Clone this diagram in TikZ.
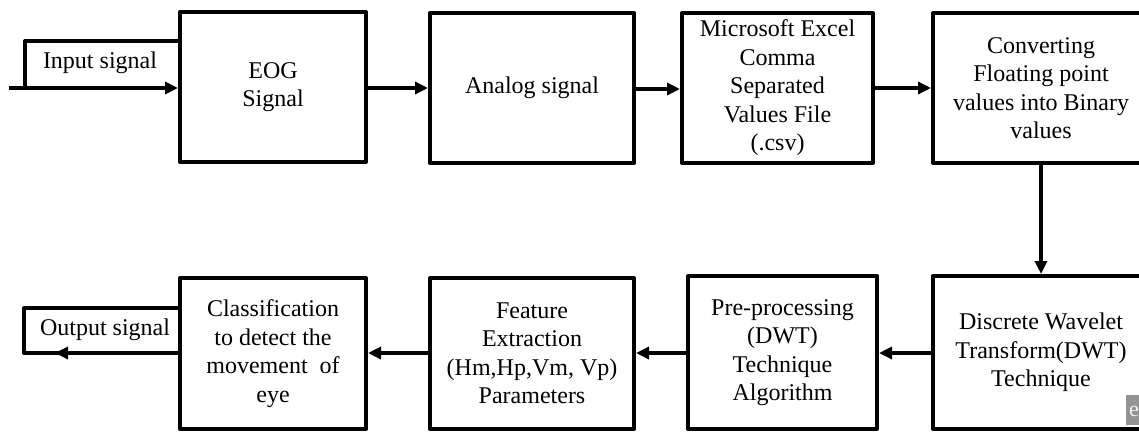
\documentclass[tikz,border=0pt]{standalone}
\usepackage{fontspec}
\setmainfont{Liberation Serif}
\usetikzlibrary{arrows.meta}
\begin{document}
\begin{tikzpicture}[x=1pt,y=-1pt,
  blk/.style={draw=black,line width=4pt,line join=round,minimum width=#1,minimum height=150pt,
    inner sep=0pt,align=center,font=\fontsize{24}{28.5}\selectfont},
  blk/.default=190pt,
  conn/.style={line width=3.5pt,-{Triangle[length=13pt,width=12pt]}},
  lbl/.style={inner sep=0pt,font=\fontsize{24}{28.5}\selectfont}]
\useasboundingbox (0,0) rectangle (1139,431);
\fill[white] (0,0) rectangle (1139,431);
% top row
\node[blk=186pt,minimum height=150pt] (eog) at (273,87) {EOG\\Signal};
\node[blk=204pt] (analog) at (532,88) {Analog signal};
\node[blk=191pt] (csv) at (777.5,88) {Microsoft Excel\\Comma\\Separated\\Values File\\(.csv)};
\node[blk=216pt] (conv) at (1041,88) {Converting\\Floating point\\values into Binary\\values};
% bottom row
\node[blk=216pt,minimum height=153pt] (dwt) at (1041,352.5) {Discrete Wavelet\\Transform(DWT)\\Technique};
\node[blk=189pt,minimum height=153pt] (pre) at (782.5,352.5) {Pre-processing\\(DWT)\\Technique\\Algorithm};
\node[blk=204pt,minimum height=151pt] (feat) at (532,353.5) {Feature\\Extraction\\(Hm,Hp,Vm, Vp)\\Parameters};
\node[blk=186pt,minimum height=151pt] (cls) at (273,353.5) {Classification\\to detect the\\movement\ \ of\\eye};
% input
\coordinate (inS) at (9,88);
\coordinate (inC) at (25,88);
\draw[line width=4pt,line join=round] (inC) -- (25,41) -- (eog.west |- 0,41);
\draw[conn] (inS) -- (inS -| eog.west);
\node[lbl] (intext) at (100,63) {Input signal};
% output
\coordinate (outC) at (24,353);
\coordinate (outTip) at (55,353);
\draw[line width=4pt,line join=round] (cls.west |- outC) -- (outC) -- (24,308) -- (cls.west |- 0,308);
\draw[conn] (cls.west |- outC) -- (outTip);
\node[lbl] (outtext) at (105,330) {Output signal};
% connectors
\draw[conn] (eog.east |- 0,88) -- (analog.west |- 0,88);
\draw[conn] (analog.east |- 0,89) -- (csv.west |- 0,89);
\draw[conn] (csv.east |- 0,88) -- (conv.west |- 0,88);
\draw[conn] (conv.south) -- (dwt.north);
\draw[conn] (dwt.west |- 0,353) -- (pre.east |- 0,353);
\draw[conn] (pre.west |- 0,353) -- (feat.east |- 0,353);
\draw[conn] (feat.west |- 0,353) -- (cls.east |- 0,353);
% watermark fragment
\begin{scope}
\clip (1126,395) rectangle (1139,425);
\fill[gray!85] (1126,395) rectangle (1139,425);
\node[text=white!90!gray,font=\fontsize{22}{22}\selectfont,anchor=west,inner sep=0pt] (wm) at (1129,411) {e};
\end{scope}
\end{tikzpicture}
\end{document}
